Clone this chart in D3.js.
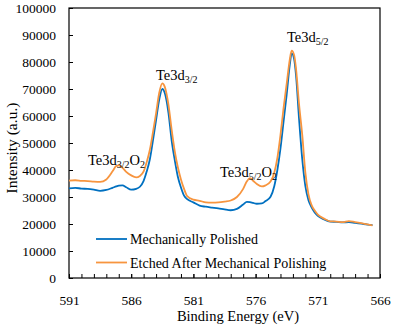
<!DOCTYPE html>
<html>
<head>
<meta charset="utf-8">
<script src="https://cdn.jsdelivr.net/npm/d3@7"></script>
<style>
  body { margin: 0; background: #fff; }
  text { font-family: "Liberation Serif", "Times New Roman", serif; fill: #000; }
</style>
</head>
<body>
<div id="chart"></div>
<script>
// binding energy (eV) for each sample point
const energy = [591.0, 590.5, 590.0, 589.5, 589.0, 588.5, 588.0, 587.5, 587.2, 587.0, 586.7, 586.4, 586.0, 585.6, 585.3, 585.0,
  584.75, 584.5, 584.25, 584.0, 583.75, 583.5, 583.3, 583.0, 582.75, 582.5, 582.25, 582.0, 581.75, 581.5, 581.0,
  580.5, 580.0, 579.5, 579.0, 578.5, 578.0, 577.5, 577.0, 576.7, 576.45, 576.2, 575.9, 575.5, 575.2, 574.8,
  574.5, 574.25, 574.0, 573.75, 573.5, 573.25, 573.1, 572.9, 572.75, 572.5, 572.25, 572.0, 571.75, 571.5, 571.25,
  571.0, 570.5, 570.0, 569.5, 569.0, 568.5, 568.0, 567.5, 567.0, 566.6];

const polished = [33200, 33400, 33100, 33000, 32700, 32300, 32600, 33400, 33900, 34200, 34300, 33600, 32700, 33000, 33800, 36000,
  39500, 44000, 51000, 58500, 66000, 70000, 68500, 61000, 51000, 43700, 37500, 33500, 30500, 29200, 28000,
  26800, 26400, 26100, 25800, 25400, 25100, 25600, 27200, 28200, 28100, 27800, 27500, 27600, 28500, 30100,
  34000, 40000, 48000, 58000, 68000, 79000, 83200, 81000, 75000, 58500, 44000, 34000, 28800, 26200, 24300,
  23000, 21700, 20900, 20800, 20600, 20700, 20400, 20100, 19800, 19600];

const etched = [36100, 36200, 36000, 35900, 35700, 35600, 36500, 39500, 41500, 41700, 40800, 39300, 38000, 37300, 37800, 39500,
  43000, 47500, 54000, 61000, 68500, 72100, 70800, 64000, 55000, 47000, 41000, 36500, 33000, 30300, 29000,
  28600, 28000, 27900, 28000, 28300, 28700, 30000, 33000, 35800, 37000, 36000, 34800, 33900, 34300, 35700,
  39000, 44500, 53000, 63000, 72000, 81000, 84200, 82500, 77500, 64000, 53000, 39000, 31000, 27000, 25000,
  23500, 22000, 21000, 20900, 20700, 21100, 20700, 20300, 19900, 19500];

const xTicks = [591, 586, 581, 576, 571, 566];
const yTicks = [0, 10000, 20000, 30000, 40000, 50000, 60000, 70000, 80000, 90000, 100000];

const seriesNames = ["Mechanically Polished", "Etched After Mechanical Polishing"];
const colors = ["#0070c0", "#f7953f"];

const W = 396, H = 325;
const margin = { top: 8, right: 16, bottom: 47, left: 69 };
const width = W - margin.left - margin.right;
const height = H - margin.top - margin.bottom;

const svg = d3.select("#chart").append("svg")
  .attr("width", W).attr("height", H);

const g = svg.append("g")
  .attr("transform", `translate(${margin.left},${margin.top})`);

const x = d3.scaleLinear().domain([591, 566]).range([0, width]);
const y = d3.scaleLinear().domain([0, 100000]).range([height, 0]);

// minor ticks every 1 eV, inward
g.append("g")
  .attr("transform", `translate(0,${height})`)
  .call(d3.axisBottom(x).tickValues(d3.range(591, 565, -1)).tickFormat("").tickSizeInner(-4).tickSizeOuter(0))
  .call(a => a.select(".domain").remove());

// labelled x axis
g.append("g")
  .attr("transform", `translate(0,${height})`)
  .call(d3.axisBottom(x).tickValues(xTicks).tickFormat(d3.format("d")).tickSizeInner(-4).tickSizeOuter(0).tickPadding(17))
  .call(a => a.select(".domain").remove())
  .call(a => a.selectAll("text").attr("font-size", 13.5).attr("font-family", "Liberation Serif"));

g.append("g")
  .call(d3.axisLeft(y).tickValues(yTicks).tickFormat(d3.format("d")).tickSizeInner(-4).tickSizeOuter(0).tickPadding(13))
  .call(a => a.select(".domain").remove())
  .call(a => a.selectAll("text").attr("font-size", 13.5).attr("font-family", "Liberation Serif"));

g.selectAll(".tick line").attr("stroke", "#000");

// frame
g.append("rect")
  .attr("width", width).attr("height", height)
  .attr("fill", "none").attr("stroke", "#000").attr("stroke-width", 1.2);

const line = d3.line()
  .x(d => x(d[0]))
  .y(d => y(d[1]))
  .curve(d3.curveMonotoneX);

[polished, etched].forEach((vals, i) => {
  g.append("path")
    .datum(energy.map((e, k) => [e, vals[k]]))
    .attr("fill", "none")
    .attr("stroke", colors[i])
    .attr("stroke-width", 1.8)
    .attr("d", line);
});

// legend
seriesNames.forEach((name, i) => {
  const ly = 239 - margin.top + i * 23.5;
  g.append("line")
    .attr("x1", 27).attr("x2", 58)
    .attr("y1", ly).attr("y2", ly)
    .attr("stroke", colors[i]).attr("stroke-width", 1.8);
  g.append("text")
    .attr("x", 61).attr("y", ly + 5)
    .attr("font-size", 14)
    .text(name);
});

// peak labels
function peakLabel(px, py, sub, oxide) {
  const t = svg.append("text").attr("x", px).attr("y", py).attr("font-size", 14.5);
  t.append("tspan").text("Te3d");
  t.append("tspan").attr("font-size", 10).attr("dy", 3).text(sub);
  if (oxide) {
    t.append("tspan").attr("dy", -3).text("O");
    t.append("tspan").attr("font-size", 10).attr("dy", 3).text("2");
  }
}
peakLabel(156, 80, "3/2", false);
peakLabel(287, 42, "5/2", false);
peakLabel(88, 165, "3/2", true);
peakLabel(220, 177, "5/2", true);

// axis titles
svg.append("text")
  .attr("x", 238).attr("y", 321)
  .attr("text-anchor", "middle").attr("font-size", 14.5)
  .text("Binding Energy (eV)");

svg.append("text")
  .attr("transform", `translate(17,148) rotate(-90)`)
  .attr("text-anchor", "middle").attr("font-size", 15.5)
  .text("Intensity (a.u.)");
</script>
</body>
</html>
